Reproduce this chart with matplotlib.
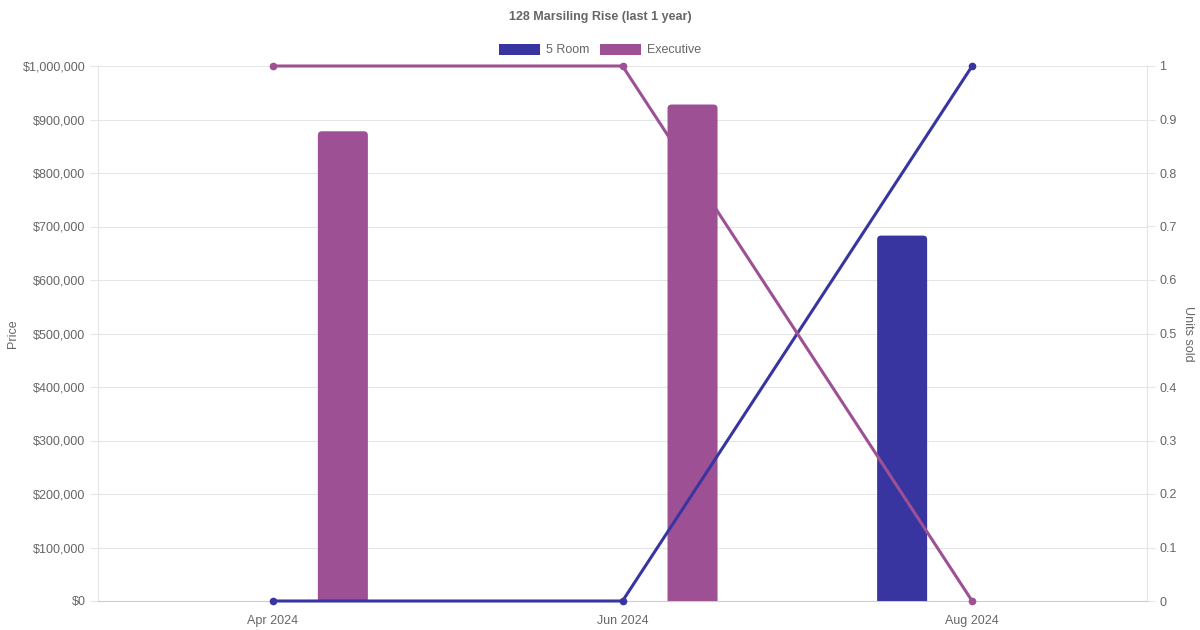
import numpy as np
import matplotlib
matplotlib.use("Agg")
import matplotlib.pyplot as plt
from matplotlib.patches import FancyBboxPatch, Patch
from matplotlib.ticker import FuncFormatter

plt.rcParams["font.family"] = ["Liberation Sans", "DejaVu Sans"]

TITLE = "128 Marsiling Rise (last 1 year)"
months = ["Apr 2024", "Jun 2024", "Aug 2024"]
series = ["5 Room", "Executive"]
price_5room = [np.nan, np.nan, 683000]
price_exec = [878000, 928000, np.nan]
units_5room = [0, 0, 1]
units_exec = [1, 1, 0]

C_5ROOM = "#3935a0"
C_EXEC = "#9e5095"
TEXT = "#666666"
GRID = "#e5e5e5"

fig = plt.figure(figsize=(12, 6.3), dpi=100)
ax = fig.add_axes([98 / 1200, 29 / 630, 1049 / 1200, 535 / 630])
ax2 = ax.twinx()

x = np.arange(len(months))
xscale = 1 / 349.5          # data units per pixel, x
yscale = 1e6 / 535          # data units per pixel, y
bar_w = 50 * xscale
offset = 70 * xscale
radius = 4 * xscale


def rounded_bars(xs, vals, color):
    for xi, v in zip(xs, vals):
        if np.isnan(v):
            continue
        # start below zero so only the top corners show rounding
        low = -10 * yscale
        p = FancyBboxPatch((xi - bar_w / 2, low), bar_w, v - low,
                           boxstyle=f"round,pad=0,rounding_size={radius}",
                           mutation_aspect=yscale / xscale,
                           facecolor=color, edgecolor="none", zorder=2)
        ax.add_patch(p)


rounded_bars(x - offset, price_5room, C_5ROOM)
rounded_bars(x + offset, price_exec, C_EXEC)

ax.set_xlim(-0.5, len(months) - 0.5)
ax.set_ylim(0, 1e6)
ax.set_yticks(np.arange(0, 1e6 + 1, 1e5))
ax.yaxis.set_major_formatter(FuncFormatter(lambda v, _: f"${v:,.0f}"))
ax.set_xticks(x)
ax.set_xticklabels(months, va="baseline")
ax.grid(axis="y", color=GRID, linewidth=0.75, zorder=0)
ax.set_axisbelow(True)
ax.tick_params(axis="y", length=6, width=0.75, color=GRID, pad=3,
               labelsize=9, labelcolor=TEXT)
ax.tick_params(axis="x", length=0, pad=16.5, labelsize=9, labelcolor=TEXT)
ax.set_ylabel("Price", color=TEXT, fontsize=9, labelpad=3)

ax2.plot(x, units_5room, color=C_5ROOM, linewidth=2.2, marker="o",
         markersize=4.5, clip_on=False, zorder=3)
ax2.plot(x, units_exec, color=C_EXEC, linewidth=2.2, marker="o",
         markersize=4.5, clip_on=False, zorder=3)
ax2.set_ylim(0, 1)
ax2.set_yticks(np.arange(0, 1.01, 0.1))
ax2.yaxis.set_major_formatter(FuncFormatter(lambda v, _: f"{v:.1f}".rstrip("0").rstrip(".") if v else "0"))
ax2.tick_params(axis="y", length=6, width=0.75, color=GRID, pad=3,
                labelsize=9, labelcolor=TEXT)
ax2.set_ylabel("Units sold", color=TEXT, fontsize=9, rotation=270, labelpad=12)

for a in (ax, ax2):
    a.spines["top"].set_visible(False)
    a.spines["left"].set_color(GRID)
    a.spines["right"].set_color(GRID)
    a.spines["bottom"].set_color("#cccccc")
    for s in a.spines.values():
        s.set_linewidth(0.75)

fig.text(0.5, 1 - 17 / 630, TITLE, ha="center", va="center",
         fontsize=9, fontweight="bold", color=TEXT)

handles = [Patch(facecolor=C_5ROOM), Patch(facecolor=C_EXEC)]
fig.legend(handles, series, loc="center", bbox_to_anchor=(0.5, 1 - 50 / 630),
           ncol=2, frameon=False, fontsize=9, labelcolor=TEXT,
           handlelength=3.3, handleheight=1.0, handletextpad=0.5,
           columnspacing=0.8)

fig.savefig("out.png", dpi=100)
